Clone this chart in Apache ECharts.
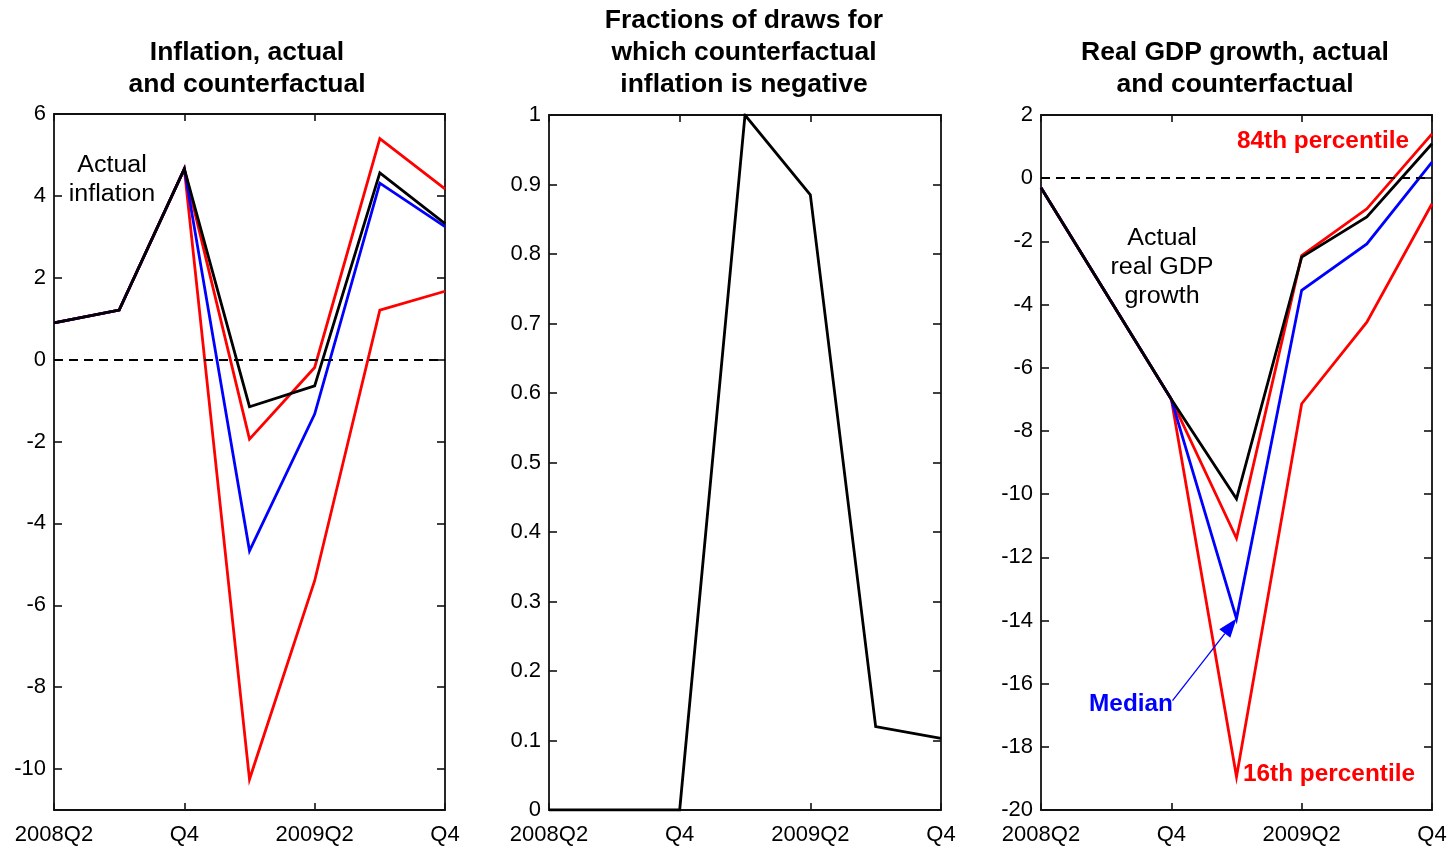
<!DOCTYPE html>
<html>
<head>
<meta charset="utf-8">
<script src="https://cdn.jsdelivr.net/npm/echarts@6/dist/echarts.min.js"></script>
<style>
  html, body { margin: 0; padding: 0; background: #fff; }
  #chart { width: 1454px; height: 849px; }
</style>
</head>
<body>
<div id="chart"></div>
<script>
// Quarters on the horizontal axis and the labels shown under the ticks
const quarters = ['2008Q2', '2008Q3', '2008Q4', '2009Q1', '2009Q2', '2009Q3', '2009Q4'];
const quarterTickLabels = ['2008Q2', '', 'Q4', '', '2009Q2', '', 'Q4'];

// Inflation: actual, median and 16th/84th percentile counterfactuals
const inflActual = [0.9, 1.21, 4.66, -1.15, -0.64, 4.56, 3.32];
const inflMedian = [0.9, 1.21, 4.66, -4.67, -1.33, 4.31, 3.25];
const inflP84 = [0.9, 1.21, 4.66, -1.94, -0.19, 5.40, 4.17];
const inflP16 = [0.9, 1.21, 4.66, -10.25, -5.40, 1.21, 1.67];
const inflTicks = [-10, -8, -6, -4, -2, 0, 2, 4, 6];

// Share of draws with negative counterfactual inflation
const fracNegative = [0, 0, 0, 1.0, 0.885, 0.12, 0.103];

// Real GDP growth: actual, median and 16th/84th percentile counterfactuals
const gdpActual = [-0.3, -3.65, -7.0, -10.15, -2.5, -1.23, 1.09];
const gdpMedian = [-0.3, -3.65, -7.0, -13.94, -3.55, -2.08, 0.51];
const gdpP84 = [-0.3, -3.65, -7.0, -11.4, -2.45, -0.97, 1.4];
const gdpP16 = [-0.3, -3.65, -7.0, -18.95, -7.14, -4.56, -0.81];

const FONT = "'Liberation Sans', Arial, sans-serif";
const RED = '#ff0000', BLUE = '#0000ff', BLACK = '#000000';

const grids = [
  { left: 54, right: 1454 - 445, top: 114, bottom: 39 },
  { left: 549, right: 1454 - 941, top: 115, bottom: 39 },
  { left: 1041, right: 1454 - 1432, top: 115, bottom: 39 }
];

const axisLineStyle = { show: true, onZero: false, lineStyle: { color: '#111', width: 1.8 } };
const tickLine = { color: '#111', width: 1.6 };
const everyOther = (i) => i % 2 === 0;

function xAxes(gridIndex) {
  return [
    {
      type: 'category', gridIndex, data: quarters, boundaryGap: false, position: 'bottom',
      axisLine: axisLineStyle,
      axisTick: { show: true, inside: true, length: 7, interval: everyOther, lineStyle: tickLine },
      axisLabel: {
        show: true, interval: everyOther, margin: 14, color: '#000', fontFamily: FONT, fontSize: 22,
        formatter: (v, i) => quarterTickLabels[i]
      },
      splitLine: { show: false }
    },
    {
      type: 'category', gridIndex, data: quarters, boundaryGap: false, position: 'top',
      axisLine: axisLineStyle,
      axisTick: { show: true, inside: true, length: 7, interval: everyOther, lineStyle: tickLine },
      axisLabel: { show: false },
      splitLine: { show: false }
    }
  ];
}

function yAxes(gridIndex, min, max, extra) {
  const tick = Object.assign({ show: true, inside: true, length: 8, lineStyle: tickLine },
    extra.ticks ? { customValues: extra.ticks } : {});
  const label = Object.assign({ show: true, margin: 8, color: '#000', fontFamily: FONT, fontSize: 22 },
    extra.ticks ? { customValues: extra.ticks } : {});
  const base = { type: 'value', gridIndex, min, max, splitLine: { show: false }, axisLine: axisLineStyle };
  if (extra.interval) base.interval = extra.interval;
  return [
    Object.assign({}, base, { position: 'left', axisTick: tick, axisLabel: label }),
    Object.assign({}, base, { position: 'right', axisTick: tick, axisLabel: { show: false } })
  ];
}

function line(name, data, color, xIdx, yIdx, z, zeroLine) {
  const s = {
    name, type: 'line', data, xAxisIndex: xIdx, yAxisIndex: yIdx,
    symbol: 'none', z, silent: true,
    lineStyle: { color, width: 2.8, join: 'miter' }
  };
  if (zeroLine) {
    s.markLine = {
      silent: true, symbol: 'none', label: { show: false },
      lineStyle: { color: '#000', width: 1.8, type: [9, 6] },
      data: [{ yAxis: 0 }]
    };
  }
  return s;
}

const chart = echarts.init(document.getElementById('chart'), null, { renderer: 'canvas' });

const option = {
  animation: false,
  backgroundColor: '#fff',
  grid: grids,
  xAxis: [...xAxes(0), ...xAxes(1), ...xAxes(2)],
  yAxis: [
    ...yAxes(0, -11, 6, { ticks: inflTicks }),
    ...yAxes(1, 0, 1, { interval: 0.1 }),
    ...yAxes(2, -20, 2, { interval: 2 })
  ],
  series: [
    line('inflation 84th', inflP84, RED, 0, 0, 2, true),
    line('inflation 16th', inflP16, RED, 0, 0, 2),
    line('inflation median', inflMedian, BLUE, 0, 0, 3),
    line('inflation actual', inflActual, BLACK, 0, 0, 4),
    line('fraction negative', fracNegative, BLACK, 2, 2, 4),
    line('gdp 84th', gdpP84, RED, 4, 4, 2, true),
    line('gdp 16th', gdpP16, RED, 4, 4, 2),
    line('gdp median', gdpMedian, BLUE, 4, 4, 3),
    line('gdp actual', gdpActual, BLACK, 4, 4, 4)
  ]
};
chart.setOption(option);

// Titles and annotations (slightly widened glyphs)
function text(x, y, str, opts, sx) {
  return {
    type: 'text', x, y, z: 100, scaleX: sx || 1.06,
    style: Object.assign({
      text: str, fontFamily: FONT, fontSize: 23, fill: '#000',
      align: 'center', verticalAlign: 'middle', lineHeight: 32
    }, opts || {})
  };
}
const titleStyle = { fontSize: 25, fontWeight: 'bold', lineHeight: 32 };

// Arrow pointing at the median GDP trough
const tip = chart.convertToPixel({ seriesIndex: 7 }, [3, gdpMedian[3]]);
const start = [tip[0] - 64, tip[1] + 82];
const ang = Math.atan2(tip[1] - start[1], tip[0] - start[0]);
const headLen = 19, headW = 7;
const base = [tip[0] - headLen * Math.cos(ang), tip[1] - headLen * Math.sin(ang)];
const nx = -Math.sin(ang), ny = Math.cos(ang);

chart.setOption({
  graphic: [
    text(247, 69, 'Inflation, actual\nand counterfactual', titleStyle),
    text(744, 53, 'Fractions of draws for\nwhich counterfactual\ninflation is negative', titleStyle),
    text(1235, 69, 'Real GDP growth, actual\nand counterfactual', titleStyle),
    text(112, 180, 'Actual\ninflation', { lineHeight: 29 }, 1.09),
    text(1162, 268, 'Actual\nreal GDP\ngrowth', { lineHeight: 29 }, 1.09),
    text(1323, 142, '84th percentile', { fill: RED, fontWeight: 'bold', fontSize: 23 }),
    text(1329, 775, '16th percentile', { fill: RED, fontWeight: 'bold', fontSize: 23 }),
    text(1131, 705, 'Median', { fill: BLUE, fontWeight: 'bold', fontSize: 23 }),
    {
      type: 'line', z: 100,
      shape: { x1: start[0], y1: start[1], x2: base[0], y2: base[1] },
      style: { stroke: BLUE, lineWidth: 1.3 }
    },
    {
      type: 'polygon', z: 100,
      shape: { points: [tip, [base[0] + nx * headW, base[1] + ny * headW], [base[0] - nx * headW, base[1] - ny * headW]] },
      style: { fill: BLUE }
    }
  ]
});
</script>
</body>
</html>
